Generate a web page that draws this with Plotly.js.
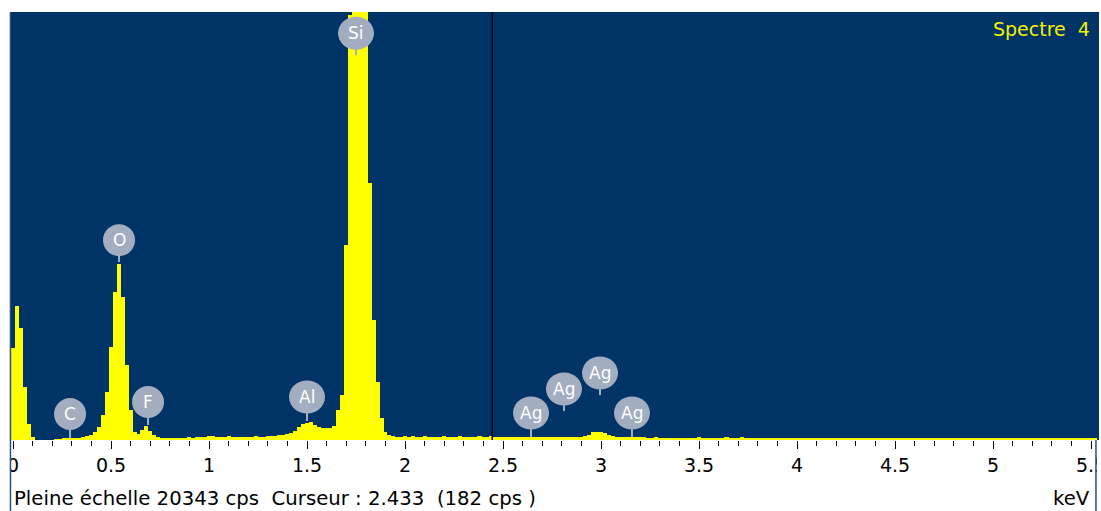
<!DOCTYPE html>
<html>
<head>
<meta charset="utf-8">
<script src="https://cdn.plot.ly/plotly-3.0.1.min.js"></script>
<style>html,body{margin:0;padding:0;background:#fff;}#chart{width:1101px;height:511px;}</style>
</head>
<body>
<div id="chart"></div>
<script>
// Channel energies (keV), 0.02 keV channels
const energies = [
0.00,0.02,0.04,0.06,0.08,0.10,0.12,0.14,0.16,0.18,
0.20,0.22,0.24,0.26,0.28,0.30,0.32,0.34,0.36,0.38,
0.40,0.42,0.44,0.46,0.48,0.50,0.52,0.54,0.56,0.58,
0.60,0.62,0.64,0.66,0.68,0.70,0.72,0.74,0.76,0.78,
0.80,0.82,0.84,0.86,0.88,0.90,0.92,0.94,0.96,0.98,
1.00,1.02,1.04,1.06,1.08,1.10,1.12,1.14,1.16,1.18,
1.20,1.22,1.24,1.26,1.28,1.30,1.32,1.34,1.36,1.38,
1.40,1.42,1.44,1.46,1.48,1.50,1.52,1.54,1.56,1.58,
1.60,1.62,1.64,1.66,1.68,1.70,1.72,1.74,1.76,1.78,
1.80,1.82,1.84,1.86,1.88,1.90,1.92,1.94,1.96,1.98,
2.00,2.02,2.04,2.06,2.08,2.10,2.12,2.14,2.16,2.18,
2.20,2.22,2.24,2.26,2.28,2.30,2.32,2.34,2.36,2.38,
2.40,2.42,2.44,2.46,2.48,2.50,2.52,2.54,2.56,2.58,
2.60,2.62,2.64,2.66,2.68,2.70,2.72,2.74,2.76,2.78,
2.80,2.82,2.84,2.86,2.88,2.90,2.92,2.94,2.96,2.98,
3.00,3.02,3.04,3.06,3.08,3.10,3.12,3.14,3.16,3.18,
3.20,3.22,3.24,3.26,3.28,3.30,3.32,3.34,3.36,3.38,
3.40,3.42,3.44,3.46,3.48,3.50,3.52,3.54,3.56,3.58,
3.60,3.62,3.64,3.66,3.68,3.70,3.72,3.74,3.76,3.78,
3.80,3.82,3.84,3.86,3.88,3.90,3.92,3.94,3.96,3.98,
4.00,4.02,4.04,4.06,4.08,4.10,4.12,4.14,4.16,4.18,
4.20,4.22,4.24,4.26,4.28,4.30,4.32,4.34,4.36,4.38,
4.40,4.42,4.44,4.46,4.48,4.50,4.52,4.54,4.56,4.58,
4.60,4.62,4.64,4.66,4.68,4.70,4.72,4.74,4.76,4.78,
4.80,4.82,4.84,4.86,4.88,4.90,4.92,4.94,4.96,4.98,
5.00,5.02,5.04,5.06,5.08,5.10,5.12,5.14,5.16,5.18,
5.20,5.22,5.24,5.26,5.28,5.30,5.32,5.34,5.36,5.38,
5.40,5.42,5.44,5.46,5.48,5.50,5.52
];
// Counts per channel (cps)
const counts = [
4370,6365,5320,2518,760,143,0,0,0,0,
0,48,48,95,95,95,95,95,143,190,
238,380,618,1188,2280,4418,7030,8360,6793,3563,
1425,380,285,475,665,428,238,143,95,95,
95,95,95,95,95,143,95,143,143,143,
190,190,143,143,143,190,143,143,143,143,
143,143,190,143,143,190,190,190,238,238,
285,333,428,618,760,808,855,713,618,570,
570,570,665,1425,2138,9263,20190,29000,28000,25000,
21500,12208,5700,2755,1045,380,238,190,143,143,
190,143,190,143,143,190,143,143,143,143,
190,143,143,143,190,143,143,143,143,190,
143,143,182,143,143,143,143,143,143,143,
143,143,143,143,143,143,143,143,143,143,
143,143,143,143,143,143,190,238,380,380,
380,333,238,190,143,143,143,143,143,143,
143,143,95,95,143,95,95,95,95,95,
95,95,95,95,95,143,95,95,95,95,
95,95,143,95,95,95,143,95,95,95,
95,95,95,95,95,95,95,95,95,95,
95,95,72,95,95,95,95,95,72,95,
95,95,95,95,95,72,95,95,95,95,
95,95,95,72,95,95,95,95,95,95,
95,72,95,95,95,95,95,95,72,95,
95,95,95,95,95,95,72,95,95,95,
95,95,95,72,95,95,95,95,95,95,
95,95,95,95,72,95,95,95,95,95,
95,95,95,95,95,95,95
];
// Element labels
const labelNames   = ["C","O","F","Al","Si","Ag","Ag","Ag","Ag"];
const labelEnergy  = [0.291,0.541,0.689,1.500,1.750,2.643,2.811,2.995,3.158];
const labelCenter  = [1235,9500,1805,2043,19333,1283,2423,3183,1283];
const labelStemEnd = [95,8455,713,903,18288,143,1378,2138,143];
const fullScale = 20343;
const cursorE = 2.445;

const grey = '#a2adc0';
const shapes = [];
const annotations = [];
for (let i = 0; i < labelNames.length; i++) {
  shapes.push({type:'line', xref:'x', yref:'y', x0:labelEnergy[i], x1:labelEnergy[i],
    y0:labelStemEnd[i], y1:labelCenter[i], line:{color:grey, width:2}});
}
for (let i = 0; i < labelNames.length; i++) {
  const w = labelNames[i].length > 1 ? 18 : 16;
  const h = labelNames[i].length > 1 ? 16.5 : 16;
  shapes.push({type:'circle', xref:'x', yref:'y', xsizemode:'pixel', ysizemode:'pixel',
    xanchor:labelEnergy[i], yanchor:labelCenter[i], x0:-w, x1:w, y0:-h, y1:h,
    fillcolor:grey, line:{width:0}});
  annotations.push({xref:'x', yref:'y', x:labelEnergy[i], y:labelCenter[i], text:labelNames[i],
    showarrow:false, xanchor:'center', yanchor:'middle',
    font:{family:'DejaVu Sans', size:17, color:'#ffffff'}});
}
// cursor
shapes.push({type:'line', xref:'x', yref:'paper', x0:cursorE, x1:cursorE, y0:0, y1:1,
  line:{color:'#000000', width:1.5}});
// frame below plot
shapes.push({type:'rect', xref:'paper', yref:'paper', x0:-0.02, x1:-0.0005, y0:-0.2, y1:0,
  fillcolor:'#ffffff', line:{width:0}});
shapes.push({type:'line', xref:'paper', yref:'paper', x0:-0.0005, x1:-0.0005, y0:-0.2, y1:1,
  line:{color:'#2b4f7f', width:1.5}});
shapes.push({type:'rect', xref:'paper', yref:'paper', x0:0.9981, x1:1.02, y0:-0.2, y1:-0.001,
  fillcolor:'#ffffff', line:{width:0}});
shapes.push({type:'line', xref:'paper', yref:'paper', x0:0.9972, x1:0.9972, y0:-0.2, y1:0,
  line:{color:'#2b4f7f', width:1.5}});

annotations.push({xref:'paper', yref:'paper', x:1, y:1, xanchor:'right', yanchor:'middle',
  xshift:-7, yshift:-17, showarrow:false, text:'Spectre\u00a0 4',
  font:{family:'DejaVu Sans', size:19, color:'#f2f200'}});
annotations.push({xref:'paper', yref:'paper', x:0, y:0, xanchor:'left', yanchor:'middle',
  xshift:1, yshift:-58, showarrow:false,
  text:'Pleine échelle ' + fullScale + ' cps\u00a0 Curseur : 2.433\u00a0 (182 cps )',
  font:{family:'DejaVu Sans', size:19.7, color:'#000000'}});
annotations.push({xref:'paper', yref:'paper', x:1, y:0, xanchor:'right', yanchor:'middle',
  xshift:-7, yshift:-58, showarrow:false, text:'keV',
  font:{family:'DejaVu Sans', size:19.7, color:'#000000'}});

const trace = {type:'bar', x:energies, y:counts, width:0.0212,
  marker:{color:'#ffff00', line:{width:0}}, hoverinfo:'skip'};

const layout = {
  width:1101, height:511,
  margin:{l:11, r:2, t:12, b:71, pad:0},
  paper_bgcolor:'#ffffff', plot_bgcolor:'#003366',
  bargap:0, showlegend:false,
  xaxis:{range:[-0.0102,5.5408], tick0:0, dtick:0.5, ticks:'outside', ticklen:8, tickwidth:1,
    tickcolor:'#000000', showgrid:false, zeroline:false, showline:false,
    ticklabeloverflow:'allow',
    tickfont:{family:'DejaVu Sans', size:19, color:'#000000'},
    minor:{dtick:0.1, ticks:'outside', ticklen:5, tickcolor:'#000000', tickwidth:1, showgrid:false},
    fixedrange:true},
  yaxis:{range:[0,fullScale], visible:false, showgrid:false, zeroline:false, fixedrange:true},
  shapes:shapes, annotations:annotations
};
Plotly.newPlot('chart', [trace], layout, {displayModeBar:false, staticPlot:true});
</script>
</body>
</html>
